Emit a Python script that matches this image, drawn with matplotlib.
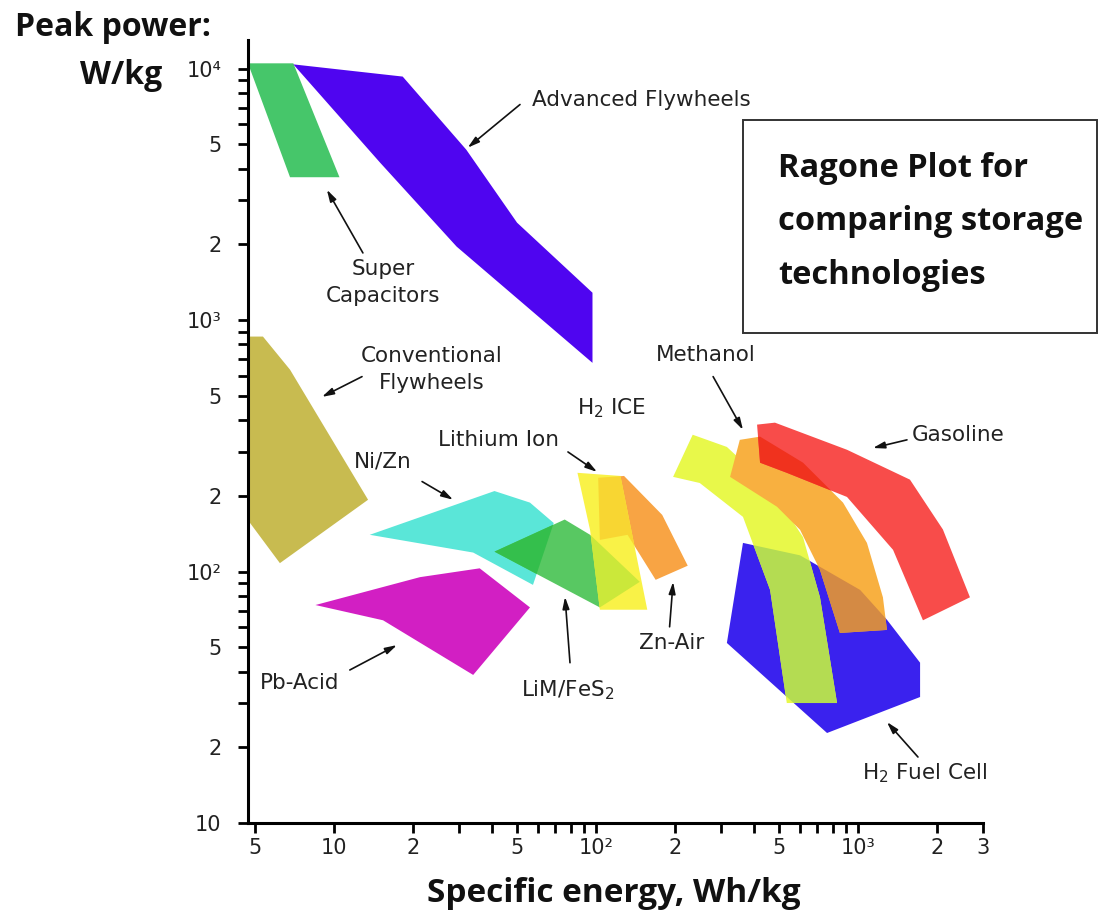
import numpy as np
import matplotlib.pyplot as plt
from matplotlib.patches import Polygon, Rectangle

# outlines of each technology: specific energy (Wh/kg) vs peak power (W/kg)
supercap_e = [4.7, 7.0, 10.5, 6.8]
supercap_p = [10500, 10500, 3700, 3700]

adv_fly_e = [7.0, 18.3, 32, 50, 97, 97, 29.4, 15.0]
adv_fly_p = [10400, 9300, 4760, 2440, 1285, 676, 1960, 4230]

conv_fly_e = [4.7, 5.36, 6.8, 13.5, 6.22, 4.7]
conv_fly_p = [860, 860, 635, 193, 108, 160]

nizn_e = [13.7, 41, 56, 69, 57.5, 34]
nizn_p = [140, 209, 188, 156, 88.5, 119]

pb_e = [8.5, 21.3, 36, 56, 34, 15.4]
pb_p = [73.6, 95, 103, 72, 38.8, 64]

lim_e = [41, 76, 95, 147, 103.5]
lim_p = [120, 161, 140, 91, 72]

liion_e = [85, 124, 157, 103.5, 95]
liion_p = [247, 240, 70.5, 70.5, 146]

znair_e = [102, 128, 179, 224, 169, 132, 103.5]
znair_p = [236, 240, 168, 105.5, 92.7, 140, 133.6]

h2ice_e = [234, 316, 462, 617, 716, 832, 535, 462, 364, 249, 197]
h2ice_p = [350, 313, 217, 137, 79, 30, 30, 84.5, 165, 225, 238]

methanol_e = [354, 423, 617, 877, 1082, 1245, 1290, 853, 716, 601, 491, 325]
methanol_p = [334, 344, 271, 188, 130, 79, 58.6, 57, 101.6, 146.6, 181, 238]

gasoline_e = [412, 482, 908, 1579, 2109, 2675, 1770, 1361, 908, 535, 423]
gasoline_p = [384, 391, 305, 232, 147, 79, 64, 122, 198, 247, 271]

fuelcell_e = [364, 601, 1019, 1290, 1726, 1726, 762, 316]
fuelcell_p = [130, 116, 84.5, 64.3, 43.4, 31.7, 22.8, 52]

x_ticks = [5, 10, 20, 50, 100, 200, 500, 1000, 2000, 3000]
x_labels = ['5', '10', '2', '5', '10²', '2', '5', '10³', '2', '3']
x_minor = [30, 40, 60, 70, 80, 90, 300, 400, 600, 700, 800, 900]
y_ticks = [10, 20, 50, 100, 200, 500, 1000, 2000, 5000, 10000]
y_labels = ['10', '2', '5', '10²', '2', '5', '10³', '2', '5', '10⁴']
y_minor = [30, 40, 60, 70, 80, 90, 300, 400, 600, 700, 800, 900,
           3000, 4000, 6000, 7000, 8000, 9000]

fig = plt.figure(figsize=(10.99, 9.13), dpi=100)
ax = fig.add_axes([248 / 1099, 90 / 913, 735 / 1099, 783 / 913])
ax.set_xscale('log')
ax.set_yscale('log')
ax.set_xlim(4.7, 3000)
ax.set_ylim(10, 13000)


def region(e, p, color, z, clip=None):
    poly = Polygon(np.column_stack([e, p]), closed=True, facecolor=color,
                   edgecolor='none', zorder=z)
    ax.add_patch(poly)
    if clip is not None:
        poly.set_clip_path(clip)
    return poly


region(supercap_e, supercap_p, '#46c66a', 2)
region(adv_fly_e, adv_fly_p, '#4f05f0', 2)
region(conv_fly_e, conv_fly_p, '#c8bb50', 2)
region(pb_e, pb_p, '#d21fc3', 2)

nizn = region(nizn_e, nizn_p, '#5ae6d8', 2)
lim = region(lim_e, lim_p, '#58c862', 3)
region(lim_e, lim_p, '#34bf4c', 3.1, clip=nizn)
znair = region(znair_e, znair_p, '#f8a444', 3.5)
liion = region(liion_e, liion_p, '#f9f247', 4)
region(liion_e, liion_p, '#cbe83a', 4.1, clip=lim)
region(liion_e, liion_p, '#f8d632', 4.2, clip=znair)

fuel = region(fuelcell_e, fuelcell_p, '#3a22ee', 2)
h2ice = region(h2ice_e, h2ice_p, '#e8f84a', 3)
region(h2ice_e, h2ice_p, '#b4dc52', 3.1, clip=fuel)
meth = region(methanol_e, methanol_p, '#f8b040', 4)
region(methanol_e, methanol_p, '#d48a44', 4.1, clip=fuel)
region(gasoline_e, gasoline_p, '#f84c4a', 5)
region(gasoline_e, gasoline_p, '#f0321e', 5.1, clip=meth)

for s in ['top', 'right']:
    ax.spines[s].set_visible(False)
for s in ['left', 'bottom']:
    ax.spines[s].set_linewidth(2.2)

ax.set_xticks(x_ticks)
ax.set_xticklabels(x_labels)
ax.set_xticks(x_minor, minor=True)
ax.set_xticklabels([], minor=True)
ax.set_yticks(y_ticks)
ax.set_yticklabels(y_labels)
ax.set_yticks(y_minor, minor=True)
ax.set_yticklabels([], minor=True)
ax.tick_params(which='both', length=7, width=2, direction='out', labelsize=15,
               labelcolor='#222222')
ax.tick_params(axis='x', pad=4)
ax.tick_params(axis='y', pad=12)

arrow = dict(arrowstyle='-|>,head_length=0.7,head_width=0.2', color='#111111',
             lw=1.2, shrinkA=0, shrinkB=0)
lab = dict(fontsize=15.5, color='#222222', ha='center', va='center')

ax.text(57, 7530, 'Advanced Flywheels', fontsize=15.5, color='#222222', ha='left', va='center')
ax.annotate('', xy=(32.4, 4850), xytext=(51.3, 7200), arrowprops=arrow)

ax.text(15.4, 1410, 'Super\nCapacitors', linespacing=1.42, **lab)
ax.annotate('', xy=(9.4, 3300), xytext=(12.9, 1850), arrowprops=arrow)

ax.text(23.7, 635, 'Conventional\nFlywheels', linespacing=1.42, **lab)
ax.annotate('', xy=(9.0, 495), xytext=(12.8, 596), arrowprops=arrow)

ax.text(15.4, 274, 'Ni/Zn', **lab)
ax.annotate('', xy=(28.5, 193), xytext=(21.7, 228), arrowprops=arrow)

ax.text(42.6, 334, 'Lithium Ion', **lab)
ax.annotate('', xy=(101, 249), xytext=(78.2, 299), arrowprops=arrow)

ax.text(115, 448, 'H$_2$ ICE', **lab)

ax.text(7.41, 36.1, 'Pb-Acid', **lab)
ax.annotate('', xy=(17.4, 51), xytext=(11.5, 40.6), arrowprops=arrow)

ax.text(78.2, 33.8, 'LiM/FeS$_2$', **lab)
ax.annotate('', xy=(76.2, 79.3), xytext=(79.6, 43.4), arrowprops=arrow)

ax.text(195, 52, 'Zn-Air', **lab)
ax.annotate('', xy=(197, 91), xytext=(191, 60.3), arrowprops=arrow)

ax.text(263, 728, 'Methanol', **lab)
ax.annotate('', xy=(364, 366), xytext=(280, 596), arrowprops=arrow)

ax.text(2411, 350, 'Gasoline', **lab)
ax.annotate('', xy=(1140, 310), xytext=(1538, 334), arrowprops=arrow)

ax.text(1803, 15.8, 'H$_2$ Fuel Cell', **lab)
ax.annotate('', xy=(1290, 25.2), xytext=(1694, 18.3), arrowprops=arrow)

bold = dict(fontfamily='Open Sans', fontweight='bold', color='#111111')
fig.text(113 / 1099, 1 - 28 / 913, 'Peak power:', fontsize=23, ha='center', va='center', **bold)
fig.text(121 / 1099, 1 - 75 / 913, 'W/kg', fontsize=23, ha='center', va='center', **bold)
fig.text(614 / 1099, 1 - 893 / 913, 'Specific energy, Wh/kg', fontsize=24, ha='center',
         va='center', **bold)

fig.add_artist(Rectangle((743 / 1099, 1 - 333 / 913), 354 / 1099, 213 / 913,
                         transform=fig.transFigure, fill=False, lw=1.4, edgecolor='#333333'))
fig.text(778 / 1099, 1 - 222 / 913, 'Ragone Plot for\ncomparing storage\ntechnologies',
         fontsize=23.5, ha='left', va='center', linespacing=1.83, **bold)

fig.savefig('out.png', dpi=100)
